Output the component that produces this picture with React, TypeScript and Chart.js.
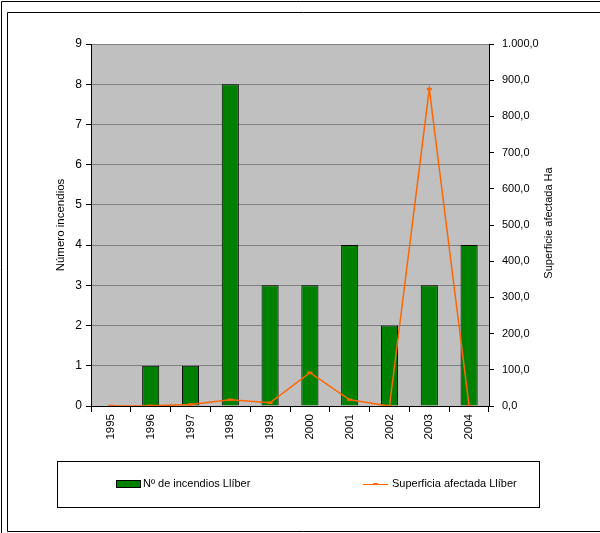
import React, { useEffect, useRef } from "react";
import { Chart, registerables } from "chart.js";
Chart.register(...registerables);

const years = ["1995", "1996", "1997", "1998", "1999", "2000", "2001", "2002", "2003", "2004"];
const fires = [0, 1, 1, 8, 3, 3, 4, 2, 3, 4];
const area = [0, 0.5, 4, 17, 9, 92, 17, 0, 876, 0];
const fireLabel = "Nº de incendios Llíber";
const areaLabel = "Superficia afectada Llíber";
const leftTitle = "Número incendios";
const rightTitle = "Superficie afectada Ha";

const FONT = "'Liberation Sans', Arial, sans-serif";

function fmt(v: number): string {
  const [i, d] = v.toFixed(1).split(".");
  const withSep = i.replace(/\B(?=(\d{3})+(?!\d))/g, ".");
  return withSep + "," + d;
}

const framePlugin = {
  id: "frame",
  beforeDraw(chart: any) {
    const { ctx, chartArea } = chart;
    ctx.save();
    ctx.fillStyle = "#ffffff";
    ctx.fillRect(0, 0, chart.width, chart.height);
    ctx.fillStyle = "#C0C0C0";
    ctx.fillRect(chartArea.left, chartArea.top, chartArea.right - chartArea.left, chartArea.bottom - chartArea.top);
    ctx.restore();
  },
  afterDraw(chart: any) {
    const { ctx, chartArea } = chart;
    ctx.save();
    ctx.strokeStyle = "#000";
    ctx.lineWidth = 1;
    // outer frame
    ctx.beginPath();
    ctx.moveTo(1.5, chart.height);
    ctx.lineTo(1.5, 1.5);
    ctx.lineTo(chart.width, 1.5);
    ctx.stroke();
    // inner frame
    ctx.beginPath();
    ctx.moveTo(chart.width, 12.5);
    ctx.lineTo(7.5, 12.5);
    ctx.lineTo(7.5, 531.5);
    ctx.lineTo(chart.width, 531.5);
    ctx.stroke();
    // right axis title (reads bottom to top)
    ctx.save();
    ctx.font = "11px " + FONT;
    ctx.fillStyle = "#000";
    ctx.textAlign = "center";
    ctx.textBaseline = "middle";
    ctx.translate(549, 223);
    ctx.rotate(-Math.PI / 2);
    ctx.fillText(rightTitle, 0, 0);
    ctx.restore();
    // legend box
    ctx.strokeRect(57.5, 461.5, 482, 46);
    const ds = chart.data.datasets;
    ctx.font = "11px " + FONT;
    ctx.textBaseline = "middle";
    // bar item
    ctx.fillStyle = ds[0].backgroundColor;
    ctx.fillRect(116, 480, 24, 7);
    ctx.strokeStyle = "#000";
    ctx.strokeRect(116.5, 480.5, 24, 7);
    ctx.fillStyle = "#000";
    ctx.textAlign = "left";
    ctx.fillText(ds[0].label, 143, 484);
    // line item
    ctx.strokeStyle = ds[1].borderColor;
    ctx.lineWidth = 1;
    ctx.beginPath();
    ctx.moveTo(363, 484.5);
    ctx.lineTo(388, 484.5);
    ctx.stroke();
    ctx.lineWidth = 2;
    ctx.beginPath();
    ctx.moveTo(373, 484);
    ctx.lineTo(378, 484);
    ctx.stroke();
    ctx.fillStyle = "#000";
    ctx.fillText(ds[1].label, 392, 484);
    ctx.restore();
  },
};

export default function App() {
  const ref = useRef<HTMLCanvasElement>(null);
  useEffect(() => {
    document.body.style.margin = "0";
    const chart = new Chart(ref.current as HTMLCanvasElement, {
      type: "bar",
      data: {
        labels: years,
        datasets: [
          {
            type: "bar",
            label: fireLabel,
            data: fires,
            backgroundColor: "#008000",
            borderColor: "#000000",
            borderWidth: (c: any) => (c.raw === 0 ? 0 : 1),
            barPercentage: 0.43,
            categoryPercentage: 1,
            yAxisID: "y",
            order: 2,
          } as any,
          {
            type: "line",
            label: areaLabel,
            data: area,
            borderColor: "#FF6600",
            backgroundColor: "#FF6600",
            borderWidth: 1.5,
            pointStyle: "line",
            pointRadius: 2.5,
            pointBorderWidth: 2.5,
            yAxisID: "y1",
            order: 1,
          } as any,
        ],
      },
      options: {
        animation: false,
        responsive: false,
        layout: { padding: { left: 50, right: 40, top: 44, bottom: 0 } },
        plugins: { legend: { display: false }, tooltip: { enabled: false } },
        scales: {
          x: {
            offset: true,
            grid: { offset: true, drawOnChartArea: false, color: "#000", tickLength: 6 },
            border: { color: "#000" },
            ticks: { minRotation: 90, maxRotation: 90, color: "#000", font: { family: FONT, size: 11.5 }, padding: 2 },
            afterFit: (s: any) => { s.height = 127; },
          },
          y: {
            position: "left",
            min: 0,
            max: 9,
            ticks: { stepSize: 1, color: "#000", font: { family: FONT, size: 12 }, padding: 4 },
            grid: { color: "#808080", tickColor: "#000", tickLength: 5 },
            border: { color: "#000" },
            title: { display: true, text: leftTitle, color: "#000", font: { family: FONT, size: 11.5 } },
            afterFit: (s: any) => { s.width = 41; },
          },
          y1: {
            position: "right",
            min: 0,
            max: 1000,
            ticks: { stepSize: 100, color: "#000", font: { family: FONT, size: 11 }, padding: 8, callback: (v: any) => fmt(Number(v)) },
            grid: { drawOnChartArea: false, color: "#000", tickLength: 5 },
            border: { color: "#000" },
            afterFit: (s: any) => { s.width = 71; },
          },
        },
      },
      plugins: [framePlugin],
    });
    return () => chart.destroy();
  }, []);
  return (
    <div style={{ position: "absolute", left: 0, top: 0, width: 600, height: 533 }}>
      <canvas ref={ref} width={600} height={533} style={{ width: 600, height: 533 }} />
    </div>
  );
}
